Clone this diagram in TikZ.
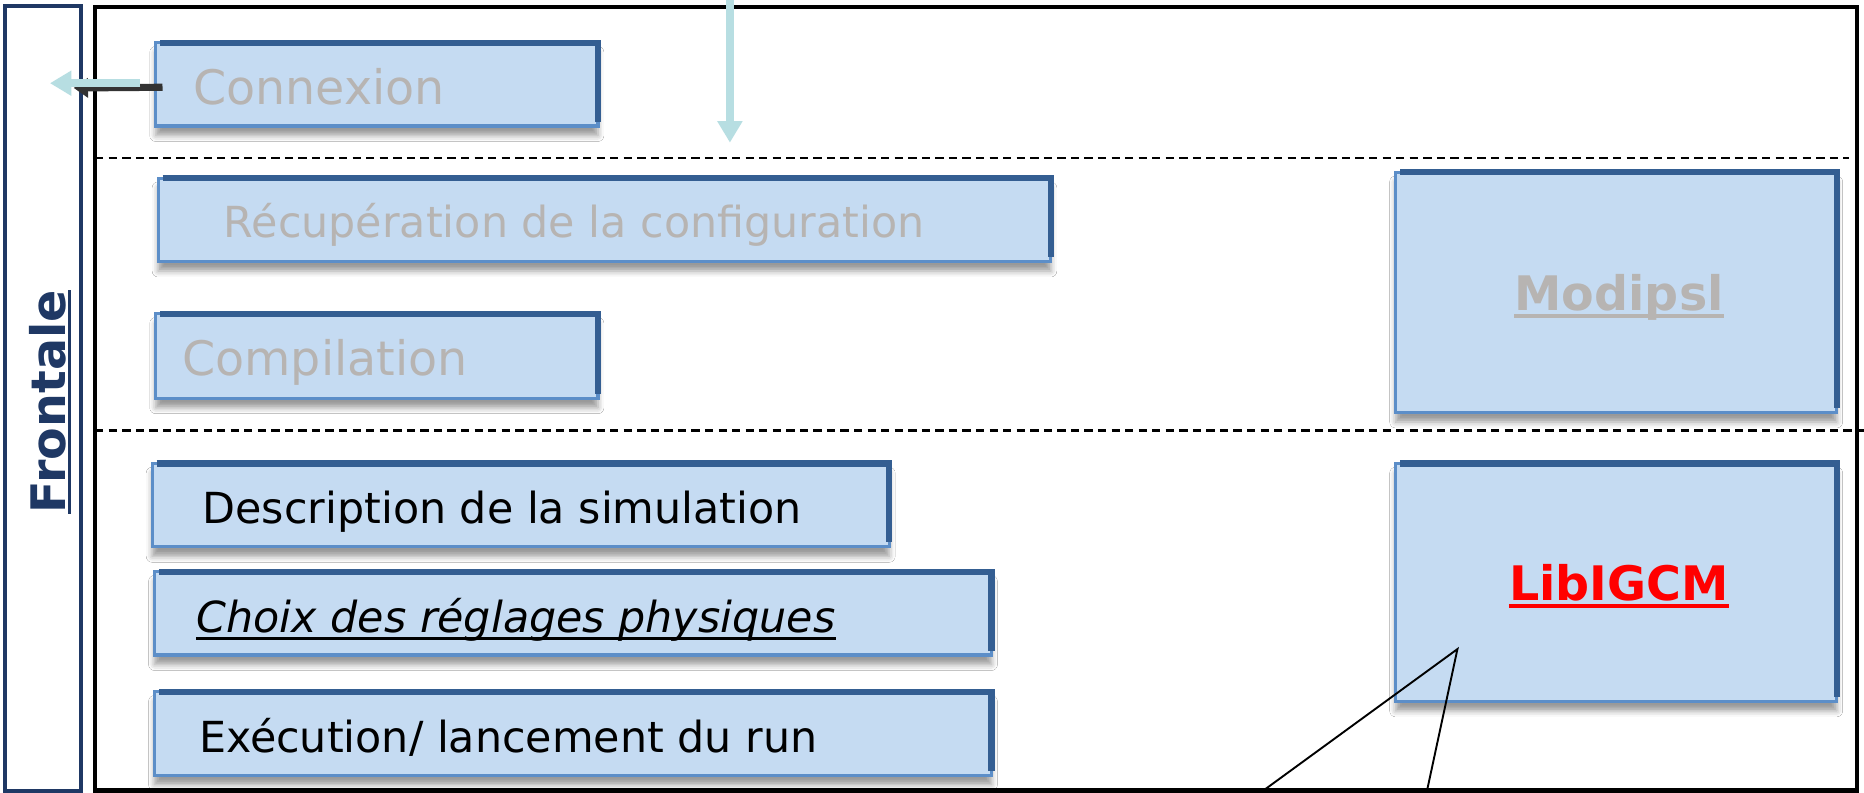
\documentclass[tikz,border=0pt]{standalone}
\usepackage{fontspec}
\setmainfont{DejaVu Sans}
\usetikzlibrary{fit,shadows.blur,arrows.meta}
\definecolor{boxfill}{RGB}{197,219,242}
\definecolor{boxline}{RGB}{92,142,200}
\definecolor{boxdark}{RGB}{52,94,146}
\definecolor{navy}{RGB}{31,56,100}
\definecolor{softgray}{RGB}{183,180,178}
\definecolor{arrowcyan}{RGB}{183,222,226}
\definecolor{libred}{RGB}{255,0,0}
\newcommand\panelbox[5]{%
  \node[panel, fit={(#2,#3) (#4,#5)}] (#1) {};
  \draw[bevel] ([xshift=2.5pt,yshift=-0.6pt]#1.north west) -- ([xshift=-0.6pt,yshift=-0.6pt]#1.north east) -- ([xshift=-0.6pt,yshift=2.5pt]#1.south east);
}
\begin{document}
\begin{tikzpicture}[x=0.5pt,y=-0.5pt,
  panel/.style={fill=boxfill, draw=boxline, line width=1.3pt, inner sep=0pt,
    blur shadow={shadow xshift=0pt, shadow yshift=-4pt, shadow blur radius=2.5pt, shadow opacity=40}},
  bevel/.style={draw=boxdark, line width=2.6pt},
  txt/.style={inner sep=0pt, anchor=base west, font=\fontsize{18}{20}\selectfont},
  sep/.style={draw=black, line width=1pt, dash pattern=on 3.5pt off 2.2pt},
  uline/.style={line width=1.2pt},
  cyanarrow/.style={draw=arrowcyan, line width=3.5pt, -{Triangle[length=9pt,width=10pt]}},
  darkarrow/.style={draw=black!80, line width=3pt, -{Triangle[length=6pt,width=8pt]}}
]
% background / bounding box
\path[fill=white] (0,0) rectangle (1568,667);
\useasboundingbox (0,0) rectangle (1568,667);

% left strip and main frame
\node[draw=navy, line width=1.7pt, inner sep=0pt, fit={(4,5) (68,665)}] (strip) {};
\node[draw=black, line width=1.8pt, inner sep=0pt, fit={(80,6) (1562,665)}] (frame) {};

% Frontale label
\node[txt, rotate=90, text=navy, font=\bfseries\fontsize{20}{22}\selectfont] (front) at (55,432) {Frontale};
\draw[uline, navy] ([xshift=1.6pt]front.base west) -- ([xshift=1.6pt]front.base east);

% dashed separators
\coordinate (s1a) at (80,133); \coordinate (s1b) at (1555,133);
\coordinate (s2a) at (80,362); \coordinate (s2b) at (1568,362);
\draw[sep] (s1a) -- (s1b);
\draw[sep] (s2a) -- (s2b);

% boxes
\panelbox{bcon}{131}{36}{503}{106}
\panelbox{brec}{133}{150}{884}{220}
\panelbox{bcomp}{131}{264}{503}{335}
\panelbox{bdesc}{128}{390}{748}{460}
\panelbox{bchoix}{130}{481}{834}{551}
\panelbox{bexec}{130}{582}{834}{652}
\panelbox{bmod}{1174}{145}{1545}{347}
\panelbox{blib}{1174}{390}{1545}{590}

% texts
\node[txt, text=softgray, font=\fontsize{20}{22}\selectfont] (tcon) at (162,88) {Connexion};
\node[txt, text=softgray] (trec) at (188,200) {Récupération de la configuration};
\node[txt, text=softgray, font=\fontsize{20}{22}\selectfont] (tcomp) at (153,316) {Compilation};
\node[txt, text=black] (tdesc) at (170,440) {Description de la simulation};
\node[txt, text=black, font=\itshape\fontsize{18}{20}\selectfont] (tchoix) at (165,532) {Choix des réglages physiques};
\draw[uline, black] ([yshift=-2.6pt]tchoix.base west) -- ([yshift=-2.6pt]tchoix.base east);
\node[txt, text=black] (texec) at (167,633) {Exécution/ lancement du run};

\node[inner sep=0pt, anchor=base, text=softgray, font=\bfseries\fontsize{20}{22}\selectfont] (tmod) at (1362,261) {Modipsl};
\draw[uline, softgray, line width=1.5pt] ([yshift=-2.4pt]tmod.base west) -- ([yshift=-2.4pt]tmod.base east);
\node[inner sep=0pt, anchor=base, text=libred, font=\bfseries\fontsize{20}{22}\selectfont] (tlib) at (1362,505) {LibIGCM};
\draw[uline, libred, line width=1.5pt] ([yshift=-2.4pt]tlib.base west) -- ([yshift=-2.4pt]tlib.base east);

% arrows
\coordinate (topin) at (614,0);
\coordinate (toptip) at (614,120);
\draw[cyanarrow] (topin) -- (toptip);

\coordinate (darktip) at (62,74);
\draw[darkarrow] ([xshift=3.5pt,yshift=-1.2pt]bcon.west) -- (darktip);
\coordinate (cyanstart) at (118,70);
\coordinate (cyantip) at (42,70);
\draw[cyanarrow] (cyanstart) -- (cyantip);

% callout triangle
\coordinate (tri1) at (1060,667);
\coordinate (tri2) at (1226,546);
\coordinate (tri3) at (1200,667);
\draw[line width=0.8pt, black] (tri1) -- (tri2) -- (tri3);
\end{tikzpicture}
\end{document}
